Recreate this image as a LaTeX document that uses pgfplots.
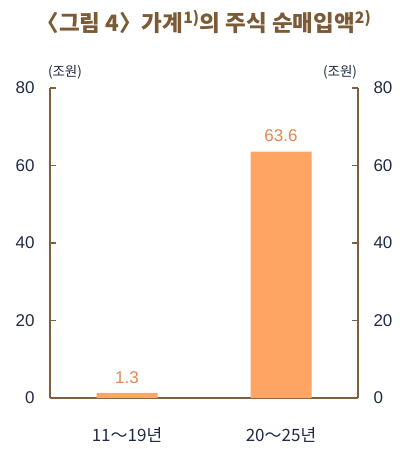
\documentclass[border=0pt]{standalone}
\usepackage{fontspec}
\setmainfont{Liberation Sans}
\newfontfamily\kr{Noto Sans CJK KR}
\usepackage{pgfplots}
\pgfplotsset{compat=1.18}
\usetikzlibrary{calc}

\definecolor{axbrown}{HTML}{7D6040}
\definecolor{ttlbrown}{HTML}{7B5A35}
\definecolor{barorange}{HTML}{FFA564}
\definecolor{valorange}{HTML}{E0884F}
\definecolor{navy}{HTML}{1F2A44}

\pgfplotsset{
  common/.style={
    scale only axis, width=308pt, height=310pt,
    xmin=-0.5, xmax=1.5, ymin=0, ymax=80,
    ytick={0,20,40,60,80},
    /pgf/number format/assume math mode=true,
    tick align=inside,
    major tick length=6pt,
    axis line style={axbrown, line width=2pt},
    every tick/.style={axbrown, line width=1.2pt},
    yticklabel style={font=\fontsize{17}{19}\selectfont, text=navy},
    yticklabel shift=12pt,
  }
}

\begin{document}
\begin{tikzpicture}
\begin{axis}[common, name=ax,
    axis x line*=bottom, axis y line*=left,
    xtick={0,1},
    xticklabels={{\kr 11～19년}, {\kr 20～25년}},
    xticklabel style={font=\fontsize{17}{19}\selectfont, text=navy},
    xticklabel shift=20pt,
    major x tick style={draw=none},
    ybar, bar width=61pt,
    nodes near coords,
    nodes near coords style={font=\fontsize{17}{19}\selectfont, text=valorange, yshift=6pt,
      /pgf/number format/.cd, fixed, precision=1, fixed zerofill, assume math mode=true},
    clip=false]
  \addplot[fill=barorange, draw=none] coordinates {(0,1.3) (1,63.6)};
\end{axis}
\begin{axis}[common,
    axis y line*=right, axis x line=none]
\end{axis}
\node[text=ttlbrown, font=\kr\bfseries\fontsize{22.5}{26}\selectfont] at ($(ax.north)+(0,66pt)$)
  {〈그림 4〉가계\textsuperscript{1)}의 주식 순매입액\textsuperscript{2)}};
\node[text=navy, font=\kr\fontsize{13.5}{15}\selectfont] at ($(ax.north west)+(15pt,16pt)$) {(조원)};
\node[text=navy, font=\kr\fontsize{13.5}{15}\selectfont] at ($(ax.north east)+(-18pt,16pt)$) {(조원)};
\path[use as bounding box] ($(ax.south west)+(-50pt,-51pt)$) rectangle ($(ax.north east)+(56pt,88pt)$);
\end{tikzpicture}
\end{document}
